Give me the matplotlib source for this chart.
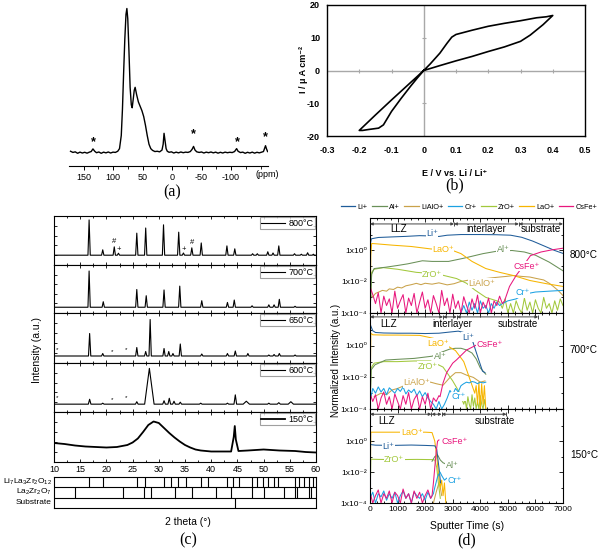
import numpy as np
import matplotlib
matplotlib.use('Agg')
import matplotlib.pyplot as plt
from matplotlib.lines import Line2D
from matplotlib.ticker import FixedLocator, FixedFormatter, MultipleLocator, NullFormatter

plt.rcParams['font.family'] = ['Liberation Sans', 'DejaVu Sans']
plt.rcParams['mathtext.fontset'] = 'custom'
plt.rcParams['mathtext.rm'] = 'Liberation Sans'
plt.rcParams['mathtext.it'] = 'Liberation Sans:italic'
plt.rcParams['mathtext.bf'] = 'Liberation Sans:bold'

# ---------------- (a) NMR spectrum ----------------
nmr_ppm = [172, 168, 164, 160, 156, 152, 148, 144, 140, 137,
           134, 131, 128, 124, 120, 116, 112, 108, 104, 100,
           96, 92, 89, 86, 84, 82, 80, 78, 76.5, 75,
           73, 71, 69, 67.5, 66, 64, 62.5, 60, 57, 54,
           51, 48, 45, 42, 39, 36, 33, 29, 25, 21,
           17, 15, 13.5, 12, 10, 8, 5, 1, -3, -7,
           -11, -15, -19, -23, -27, -31, -34, -36.5, -39, -42,
           -46, -50, -54, -58, -62, -66, -70, -74, -78, -82,
           -86, -90, -94, -98, -102, -106, -109.5, -112, -116, -120,
           -124, -128, -132, -136, -140, -144, -148, -152, -155, -158.5,
           -160, -162]
nmr_int = [0.012, 0.004, 0.008, -0.002, 0.006, 0.0, 0.005, -0.001, 0.006, 0.01,
           0.028, 0.012, 0.002, 0.007, -0.002, 0.006, 0.001, 0.007, 0.0, 0.006,
           0.004, 0.012, 0.03, 0.12, 0.3, 0.55, 0.78, 0.95, 0.99, 0.92,
           0.7, 0.45, 0.33, 0.31, 0.36, 0.43, 0.45, 0.4, 0.35, 0.32,
           0.29, 0.25, 0.19, 0.12, 0.06, 0.03, 0.018, 0.01, 0.012, 0.008,
           0.02, 0.06, 0.135, 0.09, 0.03, 0.012, 0.005, 0.008, 0.0, 0.006,
           0.001, 0.007, 0.002, 0.006, 0.004, 0.01, 0.025, 0.045, 0.02, 0.008,
           0.004, 0.007, 0.0, 0.006, 0.002, 0.007, 0.001, 0.006, -0.001, 0.005,
           0.0, 0.006, 0.002, 0.005, 0.003, 0.01, 0.03, 0.012, 0.003, 0.006,
           -0.002, 0.005, 0.0, 0.006, -0.001, 0.005, 0.001, 0.006, 0.01, 0.05,
           0.03, 0.01]
nmr_ticks = [150, 100, 50, 0, -50, -100]
nmr_star_ppm = [134, -36.5, -110, -159]
nmr_star_y = [0.03, 0.085, 0.035, 0.065]

# ---------------- (b) CV ----------------
cv_E = [0, 0.02, 0.05, 0.072, 0.087, 0.1, 0.15, 0.2, 0.25, 0.3, 0.35, 0.38, 0.4,
        0.37, 0.33, 0.3, 0.25, 0.2, 0.15, 0.1, 0.05, 0.0,
        -0.05, -0.1, -0.15, -0.2,
        -0.19, -0.17, -0.14, -0.125, -0.1, -0.07, -0.04, -0.02, 0.0]
cv_I = [0, 2.0, 5.3, 8.3, 10.2, 11.0, 12.3, 13.5, 14.4, 15.2, 16.1, 16.4, 16.8,
        14.0, 10.8, 8.9, 7.2, 5.8, 4.3, 2.95, 1.5, 0.0,
        -4.5, -9.0, -13.6, -18.3,
        -18.3, -18.0, -17.6, -16.6, -12.5, -8.5, -4.7, -2.3, 0.0]
cv_xticks = [-0.3, -0.2, -0.1, 0, 0.1, 0.2, 0.3, 0.4, 0.5]
cv_xlabels = ['-0.3', '-0.2', '-0.1', '0', '0.1', '0.2', '0.3', '0.4', '0.5']
cv_yticks = [-20, -10, 0, 10, 20]

# ---------------- (c) XRD ----------------
xrd_temps = ['800°C', '700°C', '650°C', '600°C', '150°C']
xrd800_base = 0.2
xrd800_pos = [16.7, 19.3, 21.5, 22.3, 25.8, 27.5, 30.9, 33.8, 34.7, 36.3, 38.1,
              43.0, 44.5, 47.9, 48.8, 50.8, 51.8, 52.9, 55.9, 57.2, 58.4, 59.5]
xrd800_h = [0.92, 0.31, 0.37, 0.24, 0.65, 0.755, 0.82, 0.67, 0.245, 0.35, 0.45,
            0.39, 0.33, 0.23, 0.23, 0.27, 0.245, 0.39, 0.23, 0.22, 0.25, 0.22]
xrd700_base = 0.12
xrd700_pos = [16.7, 19.4, 25.8, 27.6, 31.0, 34.0, 38.2, 43.1, 44.4, 47.8, 51.0, 52.0, 53.0, 56.0]
xrd700_h = [0.875, 0.235, 0.49, 0.36, 0.48, 0.56, 0.256, 0.22, 0.27, 0.15, 0.17, 0.17, 0.285, 0.14]
xrd650_base = 0.14
xrd650_pos = [16.8, 19.3, 25.8, 27.5, 28.35, 31.0, 31.9, 32.7, 34.1, 38.2, 43.1, 44.6, 47.0,
              51.0, 52.0, 53.0, 56.0]
xrd650_h = [0.59, 0.19, 0.31, 0.23, 0.87, 0.29, 0.23, 0.19, 0.38, 0.18, 0.19, 0.24, 0.19,
            0.16, 0.17, 0.19, 0.16]
xrd600_base = 0.16
xrd600_pos = [16.8, 19.3, 25.8, 28.2, 31.0, 32.0, 32.9, 34.1, 38.0, 43.1, 44.6, 46.7, 51.0, 52.9, 55.2]
xrd600_h = [0.26, 0.18, 0.21, 0.89, 0.23, 0.28, 0.22, 0.2, 0.18, 0.18, 0.35, 0.22, 0.18, 0.19, 0.21]
xrd600_w = [0.25, 0.25, 0.25, 0.9, 0.25, 0.25, 0.25, 0.25, 0.25, 0.25, 0.25, 0.6, 0.25, 0.3, 0.5]
xrd150_x = [10, 12, 14, 16, 18, 20, 22, 24, 25, 26, 27, 28, 29, 30, 31, 32, 33, 34, 35, 36,
            37, 38, 40, 42, 43.8, 44.3, 44.5, 44.7, 45.2, 47, 50, 53, 56, 58, 60]
xrd150_y = [0.38, 0.36, 0.33, 0.31, 0.3, 0.29, 0.3, 0.34, 0.39, 0.47, 0.6, 0.74, 0.81, 0.78,
            0.68, 0.58, 0.49, 0.41, 0.34, 0.29, 0.25, 0.23, 0.21, 0.21, 0.21, 0.5, 0.72, 0.45,
            0.22, 0.23, 0.25, 0.23, 0.22, 0.2, 0.19]
ref_llzo = [16.7, 19.3, 25.8, 27.4, 30.9, 32.3, 33.7, 35.1, 38.1, 39.3, 43.0, 44.1, 45.4,
            47.7, 48.8, 49.8, 50.8, 51.9, 52.8, 55.9, 56.8, 57.8, 58.6, 59.5]
ref_lzo = [14.1, 23.2, 27.2, 28.5, 33.1, 36.3, 41.0, 43.8, 47.7, 50.1, 53.9, 55.9, 56.4, 58.6, 59.1]
ref_sub = [44.5]
ref_names = ['Li$_7$La$_3$Zr$_2$O$_{12}$', 'La$_2$Zr$_2$O$_7$', 'Substrate']

# ---------------- (d) ToF-SIMS depth profiles ----------------
species = ['Li+', 'Al+', 'LiAlO+', 'Cr+', 'ZrO+', 'LaO+', 'CsFe+']
# 800 C
t8_li = [0, 50, 300, 800, 1300, 1800, 2200, 2500, 2800, 3300, 4000, 4600, 5100, 5500, 5900, 6300, 6700, 7000]
i8_li = [2.0, 5.6, 6.8, 7.4, 8.0, 8.9, 8.5, 7.9, 9.5, 10.5, 10.5, 10.2, 9.5, 7.0, 4.0, 2.0, 1.0, 0.65]
t8_lao = [0, 30, 60, 200, 800, 1500, 2200, 3000, 3300, 3700, 4200, 4700, 5200, 5800, 6400, 7000]
i8_lao = [1e-4, 0.5, 2.8, 2.7, 2.2, 1.8, 1.26, 1.0, 0.63, 0.2, 0.07, 0.04, 0.025, 0.012, 0.0075, 0.005]
t8_al = [0, 60, 150, 570, 1000, 1370, 1900, 2250, 2850, 3400, 4100, 4600, 5150, 5600, 6000, 6500, 7000]
i8_al = [1e-4, 0.03, 0.07, 0.085, 0.11, 0.14, 0.22, 0.2, 0.2, 0.32, 0.63, 0.9, 1.0, 0.8, 0.5, 0.18, 0.05]
t8_zro = [0, 60, 150, 480, 1000, 1680, 2100, 2500, 3140, 3500, 3800, 4200, 4600]
i8_zro = [1e-4, 0.04, 0.063, 0.08, 0.063, 0.04, 0.035, 0.03, 0.016, 0.008, 0.003, 1e-3, 6e-4]
t8_zro_tail = list(range(4700, 7001, 100))
i8_zro_tail = [5e-4, 2e-4, 8e-4, 1e-4, 4e-4, 1e-4, 6e-4, 2e-4, 1e-4, 9e-4, 1.5e-4, 5e-4,
               1e-4, 7e-4, 2e-4, 1e-4, 1e-3, 2e-4, 4e-4, 1e-4, 6e-4, 1.5e-4, 8e-4, 3e-4]
t8_lialo = [0, 100, 200, 320, 450, 600, 700, 850, 1000, 1150, 1300, 1500, 1680, 1850, 2000, 2250,
            2500, 2800, 3050, 3260, 3500, 3700, 4000, 4200, 4450, 4700, 4950, 5200, 5500, 5800,
            6050, 6300, 6500, 6650, 6850, 7000]
i8_lialo = [1.3e-3, 1.1e-3, 1.8e-3, 2.2e-3, 2.8e-3, 2.5e-3, 3.5e-3, 3.2e-3, 4.5e-3, 4e-3, 5.5e-3,
            6.5e-3, 7.9e-3, 6.5e-3, 8e-3, 7e-3, 8.5e-3, 6.3e-3, 7.5e-3, 1e-2, 1.2e-2, 1.4e-2,
            1.5e-2, 1.6e-2, 1.8e-2, 2e-2, 2.2e-2, 2.5e-2, 2.2e-2, 2e-2, 1.6e-2, 1.3e-2, 8e-3,
            5e-3, 2.5e-3, 1.3e-3]
t8_cr_noise = list(range(3300, 4900, 100))
i8_cr_noise = [1e-4, 3e-4, 1e-4, 5e-4, 1.5e-4, 4e-4, 1e-4, 6e-4, 2e-4, 3e-4, 1e-4, 4e-4, 2e-4, 5e-4, 3e-4, 4e-4]
t8_cr = [5000, 5300, 5600, 6000, 6500, 7000]
i8_cr = [6e-4, 8e-4, 1.6e-3, 2.2e-3, 2.5e-3, 2.8e-3]
t8_csfe_noise = list(range(0, 4900, 100))
i8_csfe_noise = [5e-3, 1.5e-3, 4e-4, 2e-3, 1e-4, 1.2e-3, 3e-4, 8e-4, 1e-4, 2.5e-3,
                 2e-4, 6e-4, 1.5e-3, 1e-4, 9e-4, 3e-4, 1.8e-3, 1e-4, 5e-4, 2.2e-3,
                 2e-4, 7e-4, 1e-4, 1.3e-3, 4e-4, 1e-4, 2.8e-3, 3e-4, 9e-4, 1e-4,
                 1.6e-3, 2e-4, 6e-4, 1e-4, 1.1e-3, 3e-4, 1e-4, 8e-4, 2e-4, 1.4e-3,
                 1e-4, 5e-4, 2e-4, 9e-4, 1e-4, 6e-4, 3e-4, 1.2e-3, 4e-4]
t8_csfe = [4880, 5060, 5300, 5550, 5820, 6200, 6600, 7000]
i8_csfe = [6e-4, 5e-3, 2.5e-2, 0.1, 0.47, 0.8, 1.1, 1.4]
# 700 C
t7_li = [0, 20, 100, 200, 500, 1000, 1500, 2000, 2500, 2900, 3200, 3400, 3600, 3730, 3900, 4080, 4170]
i7_li = [33, 20, 9, 7, 6.5, 6.3, 6.3, 6.0, 6.3, 7.5, 8.5, 7.0, 3.5, 1.8, 0.22, 0.025, 0.02]
t7_lao = [0, 30, 100, 500, 1000, 1800, 2300, 2900, 3100, 3400, 3600, 3800]
i7_lao = [1e-4, 6.3, 5, 4.8, 4.8, 4.6, 3.0, 0.8, 0.5, 0.1, 0.01, 1e-3]
t7_lao_tail = list(range(3850, 4201, 50))
i7_lao_tail = [3e-3, 2e-4, 5e-3, 1e-4, 4e-3, 2e-4, 3e-3, 1e-4]
t7_al = [0, 40, 180, 570, 1000, 1600, 2250, 2600, 2900, 3100, 3300, 3500, 3700, 3850, 4000, 4200]
i7_al = [1e-4, 0.03, 0.063, 0.126, 0.14, 0.16, 0.22, 0.4, 0.63, 0.7, 0.7, 0.55, 0.35, 0.15, 0.04, 0.016]
t7_zro = [0, 40, 150, 500, 1000, 1600, 2200, 2650, 3000, 3260, 3400]
i7_zro = [1e-4, 0.04, 0.08, 0.1, 0.1, 0.11, 0.11, 0.045, 6e-3, 1e-3, 2e-4]
t7_zro_tail = list(range(3450, 4201, 50))
i7_zro_tail = [4e-4, 1e-4, 6e-4, 2e-4, 1e-4, 8e-4, 1.5e-4, 5e-4, 1e-4, 3e-4, 1e-4, 7e-4, 2e-4, 1e-4, 4e-4, 1e-4]
t7_lialo = [150, 400, 600, 800, 1000, 1200, 1350, 1600, 1900, 2200, 2400, 2650, 2900, 3100, 3300,
            3500, 3750, 4000, 4170]
i7_lialo = [6e-4, 1e-3, 8e-4, 1.6e-3, 2e-3, 2.8e-3, 3.5e-3, 4.5e-3, 5e-3, 5e-3, 4e-3, 3.2e-3,
            1e-2, 2e-2, 2e-2, 1.4e-2, 1e-2, 5e-3, 6e-3]
t7_cr = list(range(0, 4201, 100))
i7_cr = [3e-4, 2e-3, 1e-3, 2.5e-3, 1.2e-3, 2e-3, 8e-4, 2.2e-3, 1.5e-3, 1e-3,
         2e-3, 1.3e-3, 2.5e-3, 9e-4, 1.6e-3, 1.1e-3, 1.8e-3, 7e-4, 1.4e-3, 6e-4,
         1.1e-3, 5e-4, 3e-4, 2e-4, 1e-4, 3e-4, 1e-4, 2e-4, 5e-4, 1.5e-3,
         8e-4, 2e-3, 1.2e-3, 3e-3, 4e-3, 5e-3, 4.5e-3, 5.5e-3, 5e-3, 4e-3,
         5e-3, 4.5e-3, 5e-3]
t7_csfe_noise = list(range(0, 2501, 100))
i7_csfe_noise = [1e-3, 3e-4, 8e-4, 1e-4, 5e-4, 1.2e-3, 2e-4, 6e-4, 1e-4, 9e-4,
                 3e-4, 1e-4, 7e-4, 2e-4, 1.1e-3, 1e-4, 4e-4, 8e-4, 1e-4, 6e-4,
                 2e-4, 1e-3, 1e-4, 5e-4, 3e-4, 7e-4]
t7_csfe = [2540, 2650, 2780, 3000, 3140, 3500, 3850]
i7_csfe = [6e-4, 4.5e-3, 2e-2, 8e-2, 0.13, 0.54, 1.1]
# 150 C
t1_lao = [0, 30, 500, 1000, 1500, 2000, 2250, 2350, 2420, 2500, 2550, 2600, 2650, 2700, 2750]
i1_lao = [1e-4, 3.8, 3.8, 3.8, 3.8, 3.8, 3.6, 1.0, 0.1, 4e-3, 1e-3, 3e-3, 3e-4, 2e-3, 1e-4]
t1_li = [0, 20, 200, 800, 1500, 2000, 2350, 2420, 2500, 2560]
i1_li = [1.2, 0.6, 0.55, 0.53, 0.56, 0.53, 0.5, 0.3, 0.02, 2e-3]
t1_zro = [0, 30, 300, 1000, 1700, 2250, 2350, 2420, 2480, 2550]
i1_zro = [1e-4, 0.068, 0.066, 0.064, 0.066, 0.064, 0.06, 0.02, 2e-3, 2e-4]
t1_al = [2250, 2350, 2450, 2550, 2650, 2720]
i1_al = [0.05, 0.1, 0.13, 0.06, 0.04, 0.035]
t1_lialo = [2300, 2400, 2500, 2550, 2600]
i1_lialo = [1e-4, 5e-4, 2e-3, 1e-3, 3e-4]
t1_cr_noise = list(range(0, 2301, 100))
i1_cr_noise = [2e-4, 5e-4, 1e-4, 4e-4, 2.5e-4, 6e-4, 1.5e-4, 4e-4, 2e-4, 5e-4,
               1e-4, 3e-4, 6e-4, 2e-4, 4e-4, 1e-4, 5e-4, 3e-4, 2e-4, 4e-4,
               1.5e-4, 5e-4, 2e-4, 4e-4]
t1_cr = [2350, 2450, 2540, 2600, 2700, 2780]
i1_cr = [1e-3, 5e-3, 1e-2, 6e-3, 3e-3, 4e-3]
t1_csfe_noise = list(range(0, 2201, 100))
i1_csfe_noise = [5e-4, 1e-4, 3e-4, 7e-4, 1e-4, 4e-4, 2e-4, 6e-4, 1e-4, 5e-4,
                 3e-4, 1e-4, 8e-4, 2e-4, 4e-4, 1e-4, 6e-4, 2e-4, 5e-4, 1e-4,
                 3e-4, 7e-4, 2e-4]
t1_csfe = [2250, 2300, 2350, 2400, 2450, 2500]
i1_csfe = [3e-4, 2e-3, 2e-2, 0.2, 1.0, 1.2]

C = {'Li+': '#1f5c99', 'Al+': '#6a9058', 'LiAlO+': '#c9a24a', 'Cr+': '#1ba1e2',
     'ZrO+': '#a2c83c', 'LaO+': '#f7b500', 'CsFe+': '#e8177d'}

# ================= figure =================
fig = plt.figure(figsize=(6, 5.5), dpi=100)
W, H = 600.0, 550.0


def ax_px(l, t, r, b):
    return fig.add_axes([l / W, 1 - b / H, (r - l) / W, (b - t) / H])


def ftext(x, y, s, **kw):
    kw.setdefault('ha', 'center')
    kw.setdefault('va', 'center')
    return fig.text(x / W, 1 - y / H, s, **kw)


SERIF = 'Liberation Serif'

# ---- (a)
axa = ax_px(69, 5, 268, 166)
axa.plot(nmr_ppm, nmr_int, color='k', lw=1.0)
axa.set_xlim(174.6, -162.7)
axa.set_ylim(-0.089, 1.014)
for s in ['top', 'right', 'left']:
    axa.spines[s].set_visible(False)
axa.spines['bottom'].set_linewidth(0.8)
axa.set_yticks([])
axa.set_xticks(nmr_ticks)
axa.set_xticklabels([str(v) for v in nmr_ticks])
axa.xaxis.set_minor_locator(MultipleLocator(25))
axa.tick_params(axis='x', which='major', direction='out', length=3, width=0.7, labelsize=6.5, pad=2)
axa.tick_params(axis='x', which='minor', direction='out', length=1.8, width=0.6)
for p, y in zip(nmr_star_ppm, nmr_star_y):
    axa.text(p, y, '*', ha='center', va='bottom', fontsize=9, fontweight='bold')
ftext(267, 175, '(ppm)', fontsize=6.5)
ftext(172, 192, '(a)', family=SERIF, fontsize=11.5)

# ---- (b)
axb = ax_px(327, 5, 585, 136)
axb.axhline(0, color='#a8a8a8', lw=1.0, zorder=0)
axb.axvline(0, color='#a8a8a8', lw=1.0, zorder=0)
axb.plot(cv_E, cv_I, color='k', lw=1.2)
axb.plot([v for v in cv_xticks if v not in (0, -0.3, 0.5)], [0] * 6, ls='none', marker='|',
         ms=3, color='#a8a8a8', mew=0.8)
axb.plot([0, 0], [-10, 10], ls='none', marker='_', ms=3, color='#a8a8a8', mew=0.8)
axb.set_xlim(-0.3, 0.5)
axb.set_ylim(-20, 20)
axb.set_xticks(cv_xticks)
axb.set_xticklabels(cv_xlabels, fontweight='bold')
axb.set_yticks(cv_yticks)
axb.set_yticklabels([str(v) for v in cv_yticks], fontweight='bold')
axb.tick_params(length=0, labelsize=6.5)
axb.tick_params(axis='x', pad=7)
axb.tick_params(axis='y', pad=5)
for s in axb.spines.values():
    s.set_linewidth(1.0)
ftext(455, 173, 'E / V vs. Li / Li⁺', fontsize=6.5, fontweight='bold')
ftext(304, 70, 'I / μ A cm⁻²', fontsize=6.5, fontweight='bold', rotation=90)
ftext(455, 185, '(b)', family=SERIF, fontsize=11.5)

# ---- (c)
bounds = [216, 265, 313, 363, 412, 462]


def stick_profile(base, pos, hts, wid):
    xs, ys = [10], [base]
    for p, h, w in sorted(zip(pos, hts, wid)):
        xs += [p - w, p, p + w]
        ys += [base, h, base]
    xs.append(60)
    ys.append(base)
    return xs, ys


profiles = [
    stick_profile(xrd800_base, xrd800_pos, xrd800_h, [0.22] * len(xrd800_pos)),
    stick_profile(xrd700_base, xrd700_pos, xrd700_h, [0.22] * len(xrd700_pos)),
    stick_profile(xrd650_base, xrd650_pos, xrd650_h, [0.22] * len(xrd650_pos)),
    stick_profile(xrd600_base, xrd600_pos, xrd600_h, xrd600_w),
    (xrd150_x, xrd150_y),
]
xrd_axes = []
for i in range(5):
    ax = ax_px(54, bounds[i], 316, bounds[i + 1])
    xs, ys = profiles[i]
    ln, = ax.plot(xs, ys, color='k', lw=0.8 if i < 4 else 1.3)
    ax.set_xlim(10, 60)
    ax.set_ylim(0, 1)
    ax.xaxis.set_major_locator(MultipleLocator(5))
    ax.xaxis.set_minor_locator(MultipleLocator(2.5))
    ax.yaxis.set_major_locator(MultipleLocator(0.2))
    ax.yaxis.set_major_formatter(NullFormatter())
    ax.tick_params(which='both', direction='in', top=True, right=True, width=0.6, labelsize=6.5, pad=2)
    ax.tick_params(which='major', length=2.5)
    ax.tick_params(which='minor', length=1.5)
    if i < 4:
        ax.tick_params(axis='x', labelbottom=False)
    for s in ax.spines.values():
        s.set_linewidth(0.8)
    leg = ax.legend([ln], [xrd_temps[i]], loc='upper right', fontsize=6.5, frameon=True,
                    fancybox=False, edgecolor='#888888', handlelength=2.6, handletextpad=0.4,
                    borderpad=0.15, borderaxespad=0.15)
    leg.get_frame().set_linewidth(0.8)
    xrd_axes.append(ax)

mk = dict(ha='center', va='center', fontsize=5.5)
xrd_axes[0].text(21.5, 0.47, '#', **mk)
xrd_axes[0].text(22.4, 0.31, '+', **mk)
xrd_axes[0].text(34.7, 0.31, '+', **mk)
xrd_axes[0].text(36.3, 0.46, '#', **mk)
for x, y in [(10.6, 0.26), (21.1, 0.23), (23.7, 0.26)]:
    xrd_axes[2].text(x, y, '*', ha='center', va='center', fontsize=4.5)
for x, y in [(10.6, 0.3), (21.1, 0.26), (23.7, 0.3)]:
    xrd_axes[3].text(x, y, '*', ha='center', va='center', fontsize=4.5)

axr = ax_px(54, 477, 316, 508)
axr.set_xlim(10, 60)
axr.set_ylim(0, 3)
axr.set_xticks([])
axr.set_yticks([])
axr.axhline(1, color='k', lw=0.8)
axr.axhline(2, color='k', lw=0.8)
axr.vlines(ref_llzo, 2, 3, color='k', lw=0.8)
axr.vlines(ref_lzo, 1, 2, color='k', lw=0.8)
axr.vlines(ref_sub, 0, 1, color='k', lw=0.8)
for s in axr.spines.values():
    s.set_linewidth(0.8)
for name, yy in zip(ref_names, [481.5, 492, 503]):
    ftext(52, yy, name, ha='right', fontsize=6.0)
ftext(37, 350, 'Intensity (a.u.)', rotation=90, fontsize=7.5)
ftext(188, 522, '2 theta (°)', fontsize=7.5)
ftext(188, 540, '(c)', family=SERIF, fontsize=11.5)

# ---- (d)
dbounds = [218, 313, 409, 503]
d_axes = [ax_px(370, dbounds[i], 563, dbounds[i + 1]) for i in range(3)]

panels = [
    [('LiAlO+', t8_lialo, i8_lialo), ('ZrO+', t8_zro + t8_zro_tail, i8_zro + i8_zro_tail),
     ('Al+', t8_al, i8_al), ('LaO+', t8_lao, i8_lao), ('Li+', t8_li, i8_li),
     ('Cr+', t8_cr_noise + t8_cr, i8_cr_noise + i8_cr),
     ('CsFe+', t8_csfe_noise + t8_csfe, i8_csfe_noise + i8_csfe)],
    [('LiAlO+', t7_lialo, i7_lialo), ('ZrO+', t7_zro + t7_zro_tail, i7_zro + i7_zro_tail),
     ('Al+', t7_al, i7_al), ('LaO+', t7_lao + t7_lao_tail, i7_lao + i7_lao_tail),
     ('Li+', t7_li, i7_li), ('Cr+', t7_cr, i7_cr),
     ('CsFe+', t7_csfe_noise + t7_csfe, i7_csfe_noise + i7_csfe)],
    [('LiAlO+', t1_lialo, i1_lialo), ('ZrO+', t1_zro, i1_zro), ('Al+', t1_al, i1_al),
     ('LaO+', t1_lao, i1_lao), ('Li+', t1_li, i1_li),
     ('Cr+', t1_cr_noise + t1_cr, i1_cr_noise + i1_cr),
     ('CsFe+', t1_csfe_noise + t1_csfe, i1_csfe_noise + i1_csfe)],
]

labels_d = [
    [('Li⁺', 2250, 12, 'Li+'), ('LaO⁺', 2650, 1.1, 'LaO+'), ('Al⁺', 4820, 1.1, 'Al+'),
     ('CsFe⁺', 5690, 0.1, 'CsFe+'), ('ZrO⁺', 2250, 0.028, 'ZrO+'),
     ('LiAlO⁺', 4050, 0.0083, 'LiAlO+'), ('Cr⁺', 5540, 0.002, 'Cr+')],
    [('Li⁺', 3550, 3.5, 'Li+'), ('LaO⁺', 2470, 1.5, 'LaO+'), ('CsFe⁺', 4350, 1.26, 'CsFe+'),
     ('Al⁺', 2540, 0.21, 'Al+'), ('ZrO⁺', 2100, 0.051, 'ZrO+'),
     ('LiAlO⁺', 1690, 0.0045, 'LiAlO+'), ('Cr⁺', 3200, 6.2e-4, 'Cr+')],
    [('LaO⁺', 1510, 3.8, 'LaO+'), ('Li⁺', 660, 0.48, 'Li+'), ('ZrO⁺', 875, 0.067, 'ZrO+'),
     ('CsFe⁺', 3080, 1.0, 'CsFe+'), ('Al⁺', 2970, 0.028, 'Al+'), ('Cr⁺', 3080, 2.7e-3, 'Cr+')],
]

brackets = [
    ([0, 3050, 5400, 7000], 50, [('LLZ', 1050), ('interlayer', 4230), ('substrate', 6180)], 24),
    ([0, 2650, 3150, 6100], 68, [('LLZ', 660), ('interlayer', 3000), ('substrate', 5370)], 24),
    ([0, 2230, 2600, 4950], 55, [('LLZ', 600), ('substrate', 4530)], 19),
]

for k, ax in enumerate(d_axes):
    for sp, tt, ii in panels[k]:
        ax.plot(tt, ii, color=C[sp], lw=0.75)
    ax.set_yscale('log')
    ax.set_xlim(0, 7000)
    ax.set_ylim(1e-4, 1.2e2)
    ax.yaxis.set_major_locator(FixedLocator([1e-4, 1e-2, 1e0]))
    ax.yaxis.set_major_formatter(FixedFormatter(['1x10⁻⁴', '1x10⁻²', '1x10⁰']))
    ax.yaxis.set_minor_locator(FixedLocator([1e-3, 1e-1, 1e1]))
    ax.yaxis.set_minor_formatter(NullFormatter())
    ax.xaxis.set_major_locator(MultipleLocator(1000))
    ax.xaxis.set_minor_locator(MultipleLocator(250))
    ax.tick_params(which='both', direction='in', top=True, right=True, width=0.6, labelsize=6, pad=2)
    ax.tick_params(which='major', length=2.8)
    ax.tick_params(which='minor', length=1.6)
    if k < 2:
        ax.tick_params(axis='x', labelbottom=False)
    for s in ax.spines.values():
        s.set_linewidth(0.8)
    for txt, x, y, sp in labels_d[k]:
        ax.text(x, y, txt, color=C[sp], fontsize=6.5, ha='center', va='center', zorder=5,
                bbox=dict(facecolor='white', edgecolor='none', pad=0.3))
    edges, ylev, texts, ytxt = brackets[k]
    for a, b in zip(edges[:-1], edges[1:]):
        ax.annotate('', xy=(a, ylev), xytext=(b, ylev),
                    arrowprops=dict(arrowstyle='<|-|>', color='#444444', lw=0.7,
                                    shrinkA=0, shrinkB=0, mutation_scale=4))
    ax.plot(edges, [ylev] * len(edges), ls='none', marker='|', ms=3.5, color='#444444', mew=0.7)
    for txt, x in texts:
        ax.text(x, ytxt, txt, fontsize=7, ha='center', va='center', zorder=6)

handles = [Line2D([], [], color=C[s], lw=0.9) for s in species]
fig.legend(handles, species, loc='center', bbox_to_anchor=(469 / W, 1 - 207 / H), ncol=7,
           frameon=False, fontsize=5.3, handlelength=2.0, handletextpad=0.3, columnspacing=0.6)
ftext(584, 255, '800°C', fontsize=7.2)
ftext(584, 350, '700°C', fontsize=7.2)
ftext(584, 455, '150°C', fontsize=7.2)
ftext(336, 360, 'Normalized Intensity (a.u.)', rotation=90, fontsize=7)
ftext(467, 526, 'Sputter Time (s)', fontsize=7.5)
ftext(467, 540, '(d)', family=SERIF, fontsize=11.5)

fig.savefig('out.png', dpi=100)
